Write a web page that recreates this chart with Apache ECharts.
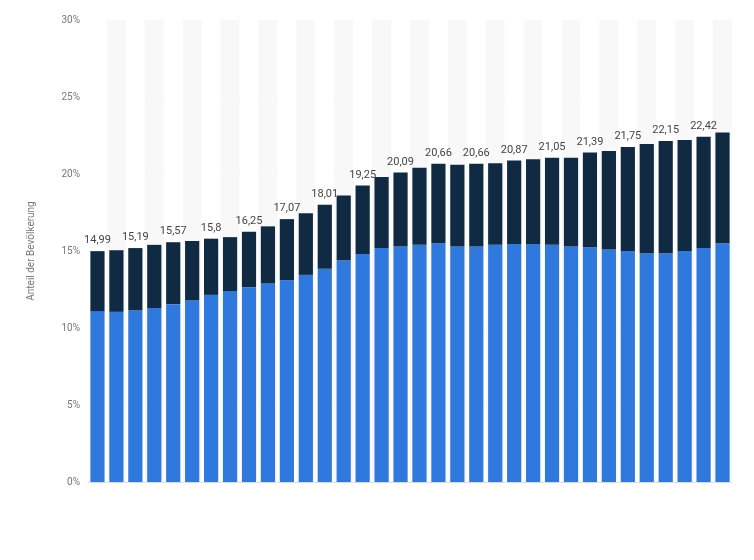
<!DOCTYPE html>
<html><head><meta charset="utf-8">
<script src="https://cdn.jsdelivr.net/npm/echarts@6/dist/echarts.min.js"></script>
<style>html,body{margin:0;background:#fff}#c{width:754px;height:560px}</style>
</head><body><div id="c"></div>
<script>
const categories = Array.from({length:34},(_, i)=>String(i+1));
const blueValues = [11.1,11.05,11.15,11.3,11.55,11.8,12.15,12.4,12.65,12.9,13.1,13.45,13.85,14.4,14.8,15.2,15.3,15.4,15.5,15.3,15.3,15.4,15.45,15.45,15.4,15.3,15.25,15.1,15.0,14.85,14.85,15.0,15.2,15.5];
const totalValues = [14.99,15.05,15.19,15.4,15.57,15.65,15.8,15.9,16.25,16.6,17.07,17.45,18.01,18.6,19.25,19.8,20.09,20.4,20.66,20.6,20.66,20.7,20.87,20.95,21.05,21.05,21.39,21.5,21.75,21.95,22.15,22.2,22.42,22.7];
const yTicks = [0,5,10,15,20,25,30];
const darkValues = totalValues.map((t,i)=>+(t-blueValues[i]).toFixed(2));
const chart = echarts.init(document.getElementById('c'));
chart.setOption({
  animation:false,
  grid:{left:88,right:22,top:20,bottom:78},
  xAxis:{type:'category',data:categories,axisLabel:{show:false},axisTick:{show:false},
    axisLine:{lineStyle:{color:'#ddd'}},
    splitArea:{show:true,areaStyle:{color:['#ffffff','#f8f8f8']}}},
  yAxis:{type:'value',min:0,max:30,interval:5,
    name:'Anteil der Bevölkerung',nameLocation:'middle',nameGap:52,nameRotate:90,
    nameTextStyle:{color:'#777',fontSize:10,fontFamily:'Roboto'},
    axisLabel:{formatter:v=>v+'%',color:'#777',fontSize:10,fontFamily:'Roboto'},
    splitLine:{lineStyle:{type:'dashed',color:'#d5d5d5'}}},
  series:[
    {type:'bar',stack:'a',data:blueValues,barWidth:'75%',itemStyle:{color:'#2f78de'}},
    {type:'bar',stack:'a',data:darkValues,itemStyle:{color:'#0f2a42'},
     label:{show:true,position:'top',color:'#444',fontSize:11,fontFamily:'Roboto',
       formatter:p=>p.dataIndex%2===0?String(totalValues[p.dataIndex]).replace('.',','):''}}
  ]
});
</script></body></html>
